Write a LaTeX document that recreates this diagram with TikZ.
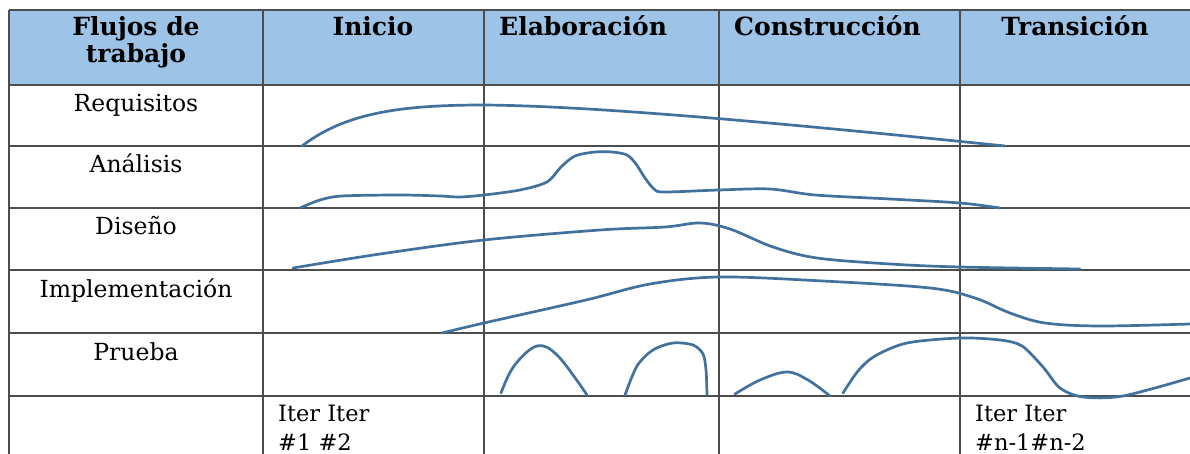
\documentclass[tikz,border=0pt]{standalone}
\usepackage{fontspec}
\setmainfont{DejaVu Serif}
\definecolor{headfill}{HTML}{9DC3E6}
\definecolor{gridc}{HTML}{4D4D4D}
\definecolor{curvec}{HTML}{41719C}
\tikzset{
  grid line/.style={draw=gridc, line width=1.4pt},
  flow/.style={draw=curvec, line width=2.7pt, line cap=round, line join=round},
  headtxt/.style={inner sep=0pt, font=\fontsize{25}{28}\selectfont\bfseries},
  rowtxt/.style={inner sep=0pt, anchor=base, font=\fontsize{23.5}{27}\selectfont},
  itertxt/.style={inner sep=0pt, anchor=base west, font=\fontsize{22.5}{26}\selectfont}
}
\begin{document}
\begin{tikzpicture}[x=1pt,y=-1pt]
\useasboundingbox (0,0) rectangle (1190,454);
% header background
\fill[headfill] (9,10) rectangle (1192,85);
% grid
\foreach \yy in {10,85,146,208,270,333,396} \draw[grid line] (9,\yy) -- (1192,\yy);
\foreach \xx in {9,263,484,719,960} \draw[grid line] (\xx,10) -- (\xx,456);
% header texts
\node[headtxt, anchor=base] (h1a) at (136,36) {Flujos de};
\node[headtxt, anchor=base] (h1b) at (136,63) {trabajo};
\node[headtxt, anchor=base] (h2) at (373,36) {Inicio};
\node[headtxt, anchor=base west] (h3) at (499,36) {Elaboración};
\node[headtxt, anchor=base west] (h4) at (734,36) {Construcción};
\node[headtxt, anchor=base] (h5) at (1075,36) {Transición};
% row labels
\node[rowtxt] (r1) at (136,112) {Requisitos};
\node[rowtxt] (r2) at (136,173) {Análisis};
\node[rowtxt] (r3) at (136,235) {Diseño};
\node[rowtxt] (r4) at (136,297) {Implementación};
\node[rowtxt] (r5) at (136,360) {Prueba};
% iterations
\node[itertxt] (i1) at (278,421) {Iter Iter};
\node[itertxt] (i2) at (278,450) {\#1 \#2};
\node[itertxt] (i3) at (975,421) {Iter Iter};
\node[itertxt] (i4) at (975,450) {\#n-1\#n-2};
% curves
\draw[flow] (302,146) .. controls (345,113) and (400,105) .. (484,105)
                      .. controls (600,106) and (800,125) .. (1005,146);
\draw[flow] plot[smooth, tension=0.5] coordinates {(300,208) (320,200) (342,196) (400,195) (440,196) (460,197) (484,195) (520,190) (547,182) (561,167) (575,156) (595,152) (612,152) (627,155) (636,164) (645,178) (654,189) (664,192) (719,190) (770,189) (815,195) (890,199) (960,203) (1000,208)};
\draw[flow] plot[smooth, tension=0.55] coordinates {(293,268) (380,254) (484,240) (600,230) (665,227) (700,223) (730,229) (773,247) (817,258) (890,264) (960,267) (1080,269)};
\draw[flow] plot[smooth, tension=0.55] coordinates {(442,333) (484,323) (586,300) (650,284) (719,277) (823,281) (930,288) (975,298) (1010,313) (1045,323) (1100,326) (1190,324)};
\draw[flow] plot[smooth, tension=0.6] coordinates {(501,393) (514,366) (537,346) (558,356) (587,395)};
\draw[flow] plot[smooth, tension=0.5] coordinates {(625,395) (637,366) (653,350) (673,343) (693,345) (703,354) (706,370) (707,395)};
\draw[flow] plot[smooth, tension=0.6] coordinates {(735,394) (760,380) (787,372) (808,380) (830,396)};
\draw[flow] plot[smooth, tension=0.5] coordinates {(843,393) (858,371) (875,356) (907,343) (960,338) (1000,340) (1022,346) (1043,367) (1060,388) (1083,397) (1123,396) (1190,378)};
\end{tikzpicture}
\end{document}
